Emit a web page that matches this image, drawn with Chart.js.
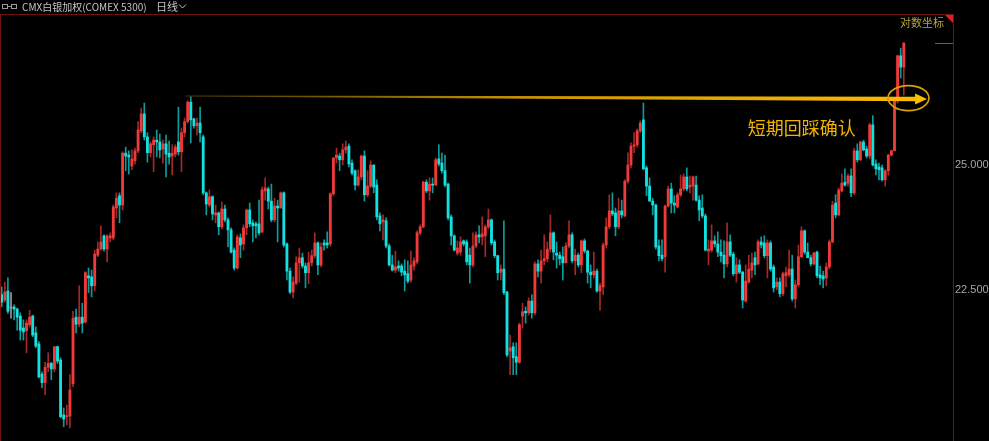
<!DOCTYPE html>
<html>
<head>
<meta charset="utf-8">
<script src="https://cdn.jsdelivr.net/npm/chart.js@4/dist/chart.umd.min.js"></script>
<style>
  html, body { margin: 0; padding: 0; background: #000; overflow: hidden; }
  #wrap { position: relative; width: 989px; height: 441px; }
  canvas { display: block; }
</style>
</head>
<body>
<div id="wrap"><canvas id="kline" width="989" height="441"></canvas></div>
<script>
// daily candles, CMX silver (COMEX 5300)
const opens = [
  22.41,22.31,22.48,22.16,22.18,22.14,22.01,21.79,21.74,21.85,
  22.01,21.70,21.50,20.96,20.81,21.08,21.15,21.05,21.45,21.21,
  20.25,20.22,20.23,20.79,21.99,21.86,21.99,21.90,22.77,22.75,
  22.58,23.17,23.29,23.55,23.29,23.51,23.51,24.11,24.36,24.17,
  25.25,25.21,24.98,25.09,25.30,25.73,26.10,25.60,25.26,25.43,
  25.53,25.49,25.34,25.45,25.25,25.19,25.23,25.49,25.28,25.69,
  25.93,26.36,25.99,25.84,25.90,25.60,24.42,24.17,24.34,23.97,
  24.01,23.73,24.09,23.87,23.67,23.27,22.92,23.51,23.39,23.71,
  24.07,23.81,23.79,23.79,23.63,24.46,24.50,24.25,23.87,24.15,
  24.11,24.42,23.39,22.86,22.46,22.63,23.02,23.12,22.96,22.83,
  23.02,23.16,23.41,22.98,23.41,23.41,23.39,24.40,25.15,25.19,
  25.11,25.32,25.40,25.04,24.88,24.58,24.75,25.19,24.38,24.56,
  25.00,24.58,23.95,23.83,23.85,23.35,22.98,22.88,22.96,22.96,
  22.86,22.81,22.69,22.96,23.04,23.61,23.73,24.64,24.46,24.60,
  24.58,25.13,25.04,24.88,24.60,23.93,23.55,23.21,23.23,23.45,
  23.43,23.17,22.98,23.35,23.57,23.53,23.55,23.73,23.87,23.43,
  23.16,22.84,22.90,22.46,21.37,21.45,21.27,21.17,22.01,22.10,
  22.07,22.29,22.07,23.00,22.86,23.06,23.10,23.29,23.61,23.21,
  23.17,23.14,23.02,23.35,23.57,23.06,23.17,22.98,23.45,23.25,
  22.84,22.79,22.86,22.48,22.56,23.37,23.73,24.05,24.01,23.73,
  24.05,23.95,24.66,25.00,25.40,25.43,25.73,25.97,24.94,24.56,
  24.25,24.17,23.35,23.17,23.14,24.15,24.50,24.21,24.13,24.38,
  24.50,24.75,24.54,24.56,24.58,24.27,24.11,23.95,23.25,23.27,
  23.45,23.39,23.23,23.17,23.00,23.43,23.19,22.81,22.98,22.84,
  22.29,22.65,22.88,23.12,23.00,23.43,23.41,23.16,23.41,22.94,
  22.56,22.65,22.43,22.77,22.79,22.90,22.33,22.60,23.14,23.65,
  23.23,23.12,23.00,23.23,22.79,22.77,22.73,22.94,23.43,24.21,
  23.97,24.46,24.64,24.62,24.77,24.42,25.30,25.11,25.49,25.34,
  25.19,25.86,25.02,24.96,24.94,24.69,24.88,25.21,25.30,26.39,
  27.41,27.15
];
const highs = [
  22.56,22.65,22.73,22.45,22.22,22.16,22.07,21.94,21.94,22.12,
  22.03,21.81,21.54,21.00,21.17,21.34,21.17,21.45,21.46,21.25,
  20.37,20.42,20.95,22.10,22.14,22.58,22.25,22.85,22.92,22.88,
  23.27,23.43,23.75,23.57,23.57,23.61,24.17,24.42,24.42,25.28,
  25.38,25.30,25.32,25.36,25.93,26.23,26.34,25.69,25.49,25.60,
  25.75,25.66,25.53,25.64,25.51,25.43,25.43,26.25,25.79,26.01,
  26.39,26.48,26.01,26.01,26.25,25.64,24.44,24.48,24.36,24.17,
  24.03,24.23,24.17,23.91,23.71,23.31,23.57,23.59,23.77,24.09,
  24.21,23.87,23.83,24.27,24.54,24.73,24.54,24.60,24.31,24.27,
  24.44,24.44,23.41,22.92,22.75,23.14,23.31,23.21,23.02,23.23,
  23.27,23.61,23.43,23.41,23.47,23.63,24.42,25.15,25.36,25.25,
  25.45,25.51,25.45,25.11,24.90,24.90,25.21,25.30,24.88,25.09,
  25.00,24.69,24.01,23.97,23.91,23.39,23.17,23.25,23.06,23.00,
  23.08,23.06,23.25,23.12,23.65,23.77,24.66,24.69,24.73,24.73,
  25.15,25.43,25.25,25.21,24.62,23.97,23.57,23.45,23.53,23.47,
  23.47,23.31,23.61,23.63,23.75,23.93,23.77,24.09,23.89,23.47,
  23.17,22.98,23.85,22.48,21.66,21.52,21.52,21.88,22.25,22.18,
  22.35,22.41,23.04,23.08,23.27,23.57,23.43,23.97,23.63,23.43,
  23.23,23.33,23.41,23.85,23.61,23.29,23.21,23.47,23.49,23.27,
  22.98,23.23,22.90,22.63,23.41,23.91,24.38,24.42,24.11,24.31,
  24.27,24.69,25.26,25.47,25.69,25.77,25.95,26.34,24.98,24.73,
  24.31,24.19,23.47,23.47,24.17,24.56,24.62,24.36,24.42,24.79,
  24.81,24.94,24.77,24.77,24.77,24.36,24.38,23.99,23.47,23.77,
  23.55,23.63,23.47,23.45,23.81,23.57,23.23,23.12,23.08,22.86,
  22.98,23.17,23.21,23.23,23.47,23.53,23.55,23.47,23.45,22.98,
  22.73,22.73,22.84,22.94,23.27,23.17,22.69,23.37,23.73,23.67,
  23.41,23.17,23.23,23.25,22.96,22.86,23.02,23.47,24.25,24.38,
  24.52,24.81,24.92,24.81,24.92,25.36,25.45,25.51,25.53,25.40,
  25.90,26.06,25.11,25.04,25.00,24.90,25.23,25.32,26.41,27.43,
  27.59,27.71
];
const lows = [
  22.18,22.27,22.06,21.97,21.94,21.75,21.57,21.57,21.34,21.81,
  21.63,21.43,20.89,20.72,20.60,21.00,20.86,21.00,21.15,20.20,
  20.05,20.08,20.03,20.74,21.70,21.81,21.70,21.88,22.45,22.37,
  22.48,23.14,23.27,23.25,23.04,23.43,23.47,23.91,23.81,24.07,
  24.88,24.81,24.90,25.02,25.26,25.69,25.53,25.06,25.17,24.86,
  25.17,25.15,25.04,24.75,25.02,24.79,25.17,25.21,24.86,25.60,
  25.90,25.47,25.79,25.64,25.49,24.38,23.97,24.13,23.87,23.81,
  23.57,23.69,23.83,23.33,23.21,22.88,22.90,23.12,23.27,23.57,
  23.73,23.43,23.51,23.57,23.61,24.27,24.09,23.83,23.83,23.43,
  24.11,23.33,22.69,22.43,22.35,22.60,22.65,22.92,22.54,22.62,
  22.96,23.12,22.79,22.94,23.27,23.31,23.35,24.36,25.04,24.88,
  25.00,25.25,24.96,24.79,24.48,24.56,24.69,24.25,24.34,24.52,
  24.42,23.87,23.65,23.47,23.31,22.96,22.86,22.83,22.86,22.77,
  22.48,22.63,22.65,22.88,23.00,23.57,23.71,24.42,24.27,24.42,
  24.58,24.98,24.83,24.54,23.87,23.37,23.25,23.17,23.17,23.35,
  22.98,22.63,22.94,23.31,23.41,23.37,23.14,23.69,23.37,23.12,
  22.69,22.69,22.41,21.27,20.95,20.95,20.95,21.15,21.79,21.88,
  22.03,21.97,22.03,22.75,22.63,22.98,23.04,23.23,23.08,22.92,
  22.98,22.69,23.02,23.31,23.02,22.79,22.94,22.83,23.21,22.63,
  22.54,22.73,22.46,22.12,22.41,23.31,23.69,23.95,23.55,23.69,
  23.91,23.93,24.62,24.94,25.26,25.38,25.69,24.90,24.36,24.25,
  23.97,23.29,23.06,23.06,22.84,24.13,24.01,24.01,24.11,24.34,
  24.46,24.46,24.42,24.27,24.25,23.85,23.91,23.25,22.98,23.23,
  23.33,23.14,23.04,22.73,22.94,23.14,22.77,22.65,22.81,22.16,
  22.27,22.63,22.73,22.79,22.98,23.31,23.12,22.73,22.86,22.46,
  22.50,22.37,22.39,22.56,22.75,22.29,22.16,22.56,23.12,23.19,
  23.12,22.96,22.98,22.73,22.60,22.54,22.58,22.90,23.41,23.91,
  23.95,24.44,24.56,24.56,24.34,24.38,25.06,25.09,25.30,25.15,
  25.13,24.98,24.79,24.69,24.66,24.56,24.79,25.19,25.30,26.34,
  26.90,26.52
];
const closes = [
  22.27,22.46,22.10,22.16,22.14,21.99,21.75,21.72,21.88,21.99,
  21.66,21.46,20.91,20.81,21.08,21.15,21.05,21.45,21.19,20.22,
  20.18,20.23,20.68,21.97,21.86,21.99,21.88,22.83,22.73,22.58,
  23.19,23.29,23.43,23.29,23.55,23.55,24.13,24.31,24.17,25.25,
  25.19,25.17,25.13,25.30,25.75,26.10,25.60,25.26,25.45,25.53,
  25.49,25.32,25.45,25.23,25.17,25.25,25.38,25.28,25.69,25.93,
  26.36,25.97,25.84,25.90,25.69,24.42,24.19,24.34,23.99,24.01,
  23.73,24.09,23.87,23.67,23.23,22.92,23.53,23.37,23.71,24.07,
  23.79,23.75,23.75,23.61,24.48,24.52,24.25,23.87,24.15,24.11,
  24.42,23.37,22.86,22.46,22.65,23.02,23.12,22.96,22.83,23.02,
  23.16,23.41,22.98,23.33,23.37,23.37,24.40,25.15,25.21,25.11,
  25.32,25.38,25.02,24.83,24.58,24.75,25.19,24.38,24.56,25.00,
  24.54,23.93,23.79,23.87,23.35,22.98,22.88,22.94,22.92,22.84,
  22.79,22.67,22.98,23.06,23.61,23.73,24.64,24.46,24.60,24.58,
  25.11,25.02,24.88,24.58,23.91,23.55,23.27,23.31,23.43,23.39,
  23.04,22.98,23.35,23.57,23.53,23.59,23.73,23.87,23.41,23.16,
  22.83,22.90,22.45,21.30,21.43,21.25,21.17,21.85,22.09,22.07,
  22.29,22.07,23.00,22.86,23.06,23.10,23.29,23.61,23.23,23.17,
  23.10,23.02,23.35,23.57,23.06,23.17,22.98,23.45,23.25,22.84,
  22.79,22.86,22.48,22.58,23.37,23.73,24.05,23.99,23.73,24.05,
  23.97,24.66,25.00,25.40,25.43,25.73,25.90,24.92,24.56,24.25,
  24.17,23.33,23.16,23.10,24.15,24.50,24.21,24.17,24.38,24.50,
  24.75,24.50,24.58,24.75,24.27,24.07,23.95,23.27,23.29,23.45,
  23.39,23.23,23.16,23.00,23.43,23.17,22.81,22.98,22.84,22.31,
  22.67,22.90,23.02,22.98,23.43,23.37,23.16,23.41,22.90,22.54,
  22.65,22.43,22.81,22.83,22.90,22.33,22.60,23.14,23.65,23.23,
  23.12,23.00,23.21,22.77,22.73,22.71,22.94,23.43,24.17,23.97,
  24.48,24.62,24.58,24.77,24.42,25.30,25.11,25.49,25.32,25.19,
  25.86,25.00,24.92,24.90,24.69,24.88,25.21,25.30,26.39,27.41,
  27.15,27.71
];

const priceTicks = [22.5, 25];
const priceRange = [19.81, 28.37];
const slotRange = [-0.226, 306.87];

// hand-drawn annotation, anchored in candle index / price units
const arrowFrom = { x: 59.3, y: 26.50 };
const arrowTo = { x: 298.5, y: 26.43 };
const ring = { x: 292.5, y: 26.45 };
const note = { x: 240.7, y: 25.79, text: '短期回踩确认' };

const UP = '#ef3a3a', DOWN = '#14e0e0', FLAT = '#9a9a9a';
const UP_WICK = '#a42828', DOWN_WICK = '#0c9c9c';

const dir = opens.map((o, i) => closes[i] > o ? 1 : closes[i] < o ? -1 : 0);
const bodies = opens.map((o, i) => ({ x: i, y: [o, closes[i]] }));
const wicks = opens.map((o, i) => ({
  x: i,
  y: [Math.min(lows[i], o, closes[i]), Math.max(highs[i], o, closes[i])]
}));

const decor = {
  id: 'decor',
  beforeDraw(chart) {
    const c = chart.ctx;
    c.save();
    c.fillStyle = '#000';
    c.fillRect(0, 0, chart.width, chart.height);
    c.restore();
  },
  afterDatasetsDraw(chart) {
    const c = chart.ctx, xs = chart.scales.x, ys = chart.scales.y;
    const x0 = xs.getPixelForValue(arrowFrom.x), y0 = ys.getPixelForValue(arrowFrom.y);
    const x1 = xs.getPixelForValue(arrowTo.x), y1 = ys.getPixelForValue(arrowTo.y);
    const xe = x1 - 12, ye = y0 + (y1 - y0) * (xe - x0) / (x1 - x0);
    c.save();
    // tapered shaft
    const g = c.createLinearGradient(x0, 0, x1, 0);
    g.addColorStop(0, 'rgba(120,95,10,0.6)');
    g.addColorStop(0.45, '#c99400');
    g.addColorStop(1, '#ffbd00');
    c.fillStyle = g;
    c.beginPath();
    c.moveTo(x0, y0 - 0.5);
    c.lineTo(xe, ye - 2.2);
    c.lineTo(xe, ye + 2.2);
    c.lineTo(x0, y0 + 0.5);
    c.closePath();
    c.fill();
    // head
    c.fillStyle = '#ffbd00';
    c.beginPath();
    c.moveTo(x1, y1);
    c.lineTo(xe, y1 - 5.5);
    c.lineTo(xe, y1 + 5.5);
    c.closePath();
    c.fill();
    // ring
    c.strokeStyle = '#d9a200';
    c.lineWidth = 1.6;
    c.beginPath();
    c.ellipse(xs.getPixelForValue(ring.x), ys.getPixelForValue(ring.y), 20.5, 12.5, 0, 0, Math.PI * 2);
    c.stroke();
    // note
    c.fillStyle = '#f2b400';
    c.font = '18px "Noto Sans CJK SC"';
    c.textBaseline = 'middle';
    c.textAlign = 'left';
    c.fillText(note.text, xs.getPixelForValue(note.x), ys.getPixelForValue(note.y));
    // last price marker
    const ly = Math.round(ys.getPixelForValue(closes[closes.length - 1])) + 0.5;
    c.strokeStyle = '#6f6418';
    c.lineWidth = 1;
    c.beginPath();
    c.moveTo(935, ly);
    c.lineTo(chart.chartArea.right, ly);
    c.stroke();
    c.restore();
  },
  afterDraw(chart) {
    const c = chart.ctx, a = chart.chartArea;
    c.save();
    // frame
    c.strokeStyle = '#6e1212';
    c.lineWidth = 1;
    c.beginPath();
    c.moveTo(0, 14.5); c.lineTo(a.right, 14.5);
    c.moveTo(0.5, 14); c.lineTo(0.5, chart.height);
    c.moveTo(a.right + 0.5, 14); c.lineTo(a.right + 0.5, chart.height);
    c.stroke();
    // corner flag + log label
    c.fillStyle = '#e02020';
    c.beginPath();
    c.moveTo(a.right - 8, 15); c.lineTo(a.right, 15); c.lineTo(a.right, 23);
    c.closePath();
    c.fill();
    c.fillStyle = '#b3a53a';
    c.font = '11px "Noto Sans CJK SC"';
    c.textAlign = 'right';
    c.textBaseline = 'middle';
    c.fillText('对数坐标', a.right - 9, 22.5);
    // header
    c.strokeStyle = '#9a9a9a';
    c.lineWidth = 1;
    c.strokeRect(2.5, 4.5, 5, 4);
    c.strokeRect(11.5, 4.5, 5, 4);
    c.beginPath(); c.moveTo(7.5, 6.5); c.lineTo(11.5, 6.5); c.stroke();
    c.fillStyle = '#c4c4c4';
    c.font = '10px "Noto Sans CJK SC"';
    c.textAlign = 'left';
    c.fillText('CMX白银加权(COMEX 5300)', 22, 7);
    c.font = '11px "Noto Sans CJK SC"';
    c.fillText('日线', 156, 7);
    c.strokeStyle = '#c4c4c4';
    c.beginPath(); c.moveTo(179, 4.5); c.lineTo(182.5, 8); c.lineTo(186, 4.5); c.stroke();
    c.restore();
  }
};

new Chart(document.getElementById('kline'), {
  type: 'bar',
  data: {
    datasets: [
      {
        label: 'body',
        data: bodies,
        backgroundColor: dir.map(d => d > 0 ? UP : d < 0 ? DOWN : FLAT),
        barThickness: 2.2,
        minBarLength: 1,
        grouped: false,
        order: 1
      },
      {
        label: 'wick',
        data: wicks,
        backgroundColor: dir.map(d => d > 0 ? UP_WICK : d < 0 ? DOWN_WICK : FLAT),
        barThickness: 1,
        grouped: false,
        order: 2
      }
    ]
  },
  options: {
    responsive: false,
    animation: false,
    devicePixelRatio: 1,
    layout: { padding: { left: 1, top: 15, right: 0, bottom: 0 } },
    plugins: { legend: { display: false }, tooltip: { enabled: false } },
    scales: {
      x: {
        type: 'linear',
        min: slotRange[0],
        max: slotRange[1],
        offset: false,
        display: false
      },
      y: {
        type: 'logarithmic',
        position: 'right',
        min: priceRange[0],
        max: priceRange[1],
        stacked: false,
        grid: { display: false, drawTicks: false, tickLength: 0 },
        border: { display: false },
        afterBuildTicks: s => { s.ticks = priceTicks.map(v => ({ value: v })); },
        afterFit: s => { s.width = 36; s.paddingTop = 0; s.paddingBottom = 0; },
        ticks: {
          color: '#a6a6a6',
          font: { family: 'Liberation Sans', size: 11 },
          padding: 2,
          autoSkip: false,
          callback: v => Number(v).toFixed(3)
        }
      }
    }
  },
  plugins: [decor]
});
</script>
</body>
</html>
